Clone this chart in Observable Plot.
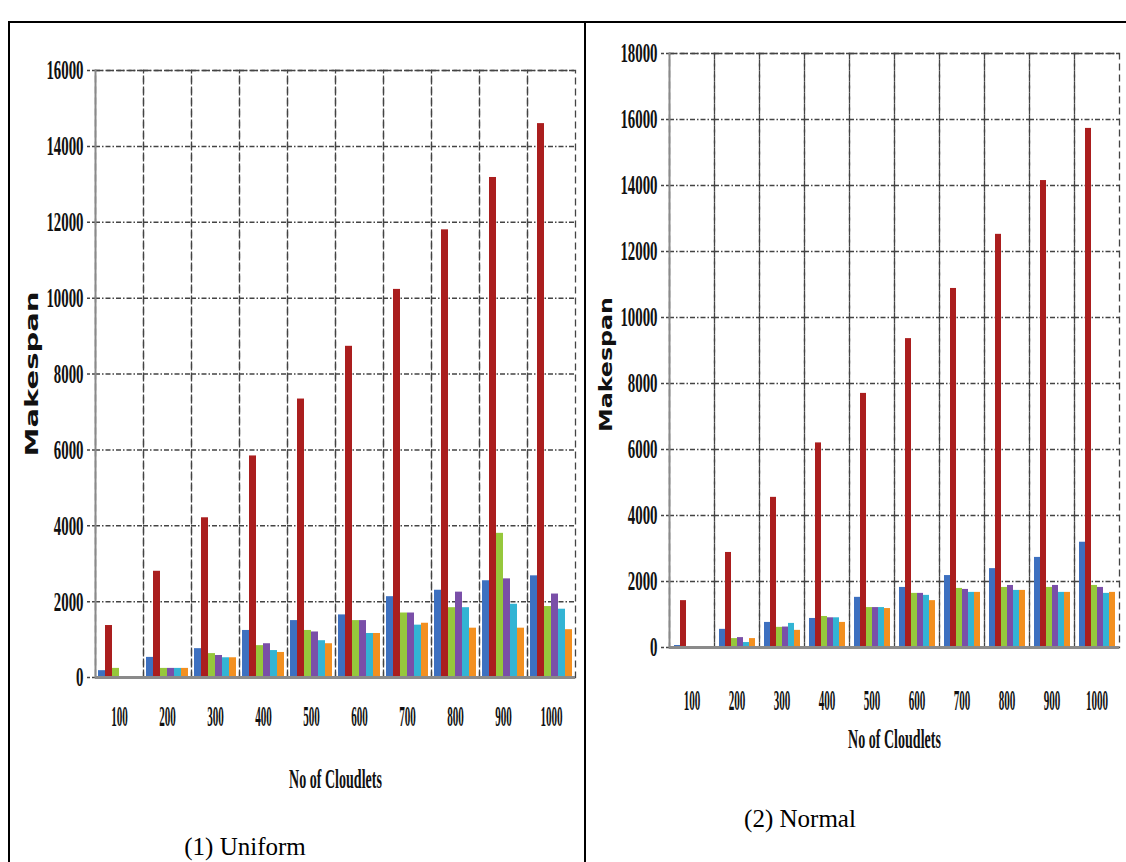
<!DOCTYPE html>
<html>
<head>
<meta charset="utf-8">
<script src="https://cdn.jsdelivr.net/npm/d3@7"></script>
<script src="https://cdn.jsdelivr.net/npm/@observablehq/plot@0.6"></script>
<style>
  html, body { margin: 0; padding: 0; background: #fff; }
  #page { position: relative; width: 1126px; height: 862px; overflow: hidden; background: #fff; }
  .line { position: absolute; background: #000; }
  .panel { position: absolute; }
  .caption { position: absolute; font-family: "Liberation Serif", "Times New Roman", serif; font-size: 25px; color: #000; text-align: center; white-space: nowrap; }
</style>
</head>
<body>
<div id="page">
  <div class="line" style="left:8px; top:21px; width:1118px; height:2px;"></div>
  <div class="line" style="left:8px; top:21px; width:2px; height:841px;"></div>
  <div class="line" style="left:584px; top:21px; width:2px; height:841px;"></div>
  <div class="panel" id="left" style="left:0px; top:0px;"></div>
  <div class="panel" id="right" style="left:590px; top:0px;"></div>
  <div class="caption" style="left:145px; top:833px; width:200px;">(1) Uniform</div>
  <div class="caption" style="left:700px; top:805px; width:200px;">(2) Normal</div>
</div>
<script>
// ---- data ----
const cloudlets = [100, 200, 300, 400, 500, 600, 700, 800, 900, 1000];
const seriesNames = ["S1", "S2", "S3", "S4", "S5", "S6"];
const seriesColors = ["#3d70c0", "#aa1e1e", "#96c83c", "#7a4fa8", "#33b4d4", "#f39020"];

// (1) Uniform
const uniformS1 = [180, 530, 760, 1240, 1500, 1650, 2130, 2300, 2550, 2680];
const uniformS2 = [1370, 2800, 4210, 5840, 7340, 8730, 10230, 11800, 13180, 14600];
const uniformS3 = [240, 240, 630, 840, 1240, 1500, 1700, 1840, 3800, 1870];
const uniformS4 = [0, 240, 580, 890, 1200, 1500, 1700, 2250, 2600, 2200];
const uniformS5 = [0, 240, 520, 710, 970, 1160, 1380, 1840, 1930, 1800];
const uniformS6 = [0, 240, 520, 660, 890, 1160, 1430, 1300, 1300, 1260];

// (2) Normal
const normalS1 = [60, 550, 760, 880, 1520, 1820, 2180, 2390, 2730, 3190];
const normalS2 = [1420, 2880, 4550, 6200, 7700, 9360, 10880, 12520, 14150, 15730];
const normalS3 = [0, 270, 610, 940, 1210, 1640, 1790, 1820, 1820, 1880];
const normalS4 = [0, 300, 620, 900, 1210, 1640, 1760, 1880, 1880, 1820];
const normalS5 = [0, 150, 730, 900, 1210, 1580, 1670, 1730, 1670, 1640];
const normalS6 = [0, 270, 520, 760, 1180, 1420, 1670, 1730, 1670, 1670];

const uniformTicks = [0, 2000, 4000, 6000, 8000, 10000, 12000, 14000, 16000];
const normalTicks = [0, 2000, 4000, 6000, 8000, 10000, 12000, 14000, 16000, 18000];

function toRows(cols) {
  const rows = [];
  cloudlets.forEach((c, i) => {
    cols.forEach((vals, j) => rows.push({cat: c, series: seriesNames[j], value: vals[i]}));
  });
  return rows;
}

const uniformData = toRows([uniformS1, uniformS2, uniformS3, uniformS4, uniformS5, uniformS6]);
const normalData = toRows([normalS1, normalS2, normalS3, normalS4, normalS5, normalS6]);

function makePanel(data, ticks, o) {
  const yMax = ticks[ticks.length - 1];
  return Plot.plot({
    width: o.width, height: o.height,
    marginLeft: o.ml, marginRight: o.mr, marginTop: o.mt, marginBottom: o.mb,
    style: {background: "transparent", overflow: "visible"},
    fx: {domain: cloudlets, padding: 0, label: "No of Cloudlets", labelAnchor: "center",
         labelOffset: o.fxLabelOffset, tickSize: 0, tickPadding: o.fxTickPadding, tickFormat: d => String(d)},
    x: {domain: seriesNames, paddingInner: 0.04, paddingOuter: 0.4, axis: null},
    y: {domain: [0, yMax], ticks: ticks, tickSize: 9, tickPadding: 3, tickFormat: d => String(d),
        label: "Makespan", labelAnchor: "center", labelOffset: o.yLabelOffset, labelArrow: "none"},
    color: {domain: seriesNames, range: seriesColors},
    marks: [
      Plot.gridY(ticks, {stroke: "#444", strokeOpacity: 1, strokeWidth: 1.5, strokeDasharray: "5,2,1.5,2"}),
      Plot.frame({stroke: "#444", strokeWidth: 1.3, strokeDasharray: "7,4"}),
      Plot.barY(data, {fx: "cat", x: "series", y: "value", fill: "series"}),
      Plot.ruleY([0], {stroke: "#8a8a8a", strokeWidth: 3}),
      Plot.frame({anchor: "left", facet: "super", stroke: "#8a8a8a", strokeWidth: 2})
    ]
  });
}

function styleText(svg, sel, attrs, factor, fixedLen) {
  svg.querySelectorAll(sel).forEach(t => {
    for (const k in attrs) t.setAttribute(k, attrs[k]);
    const w = t.getComputedTextLength();
    const len = fixedLen != null ? fixedLen : w * factor;
    t.setAttribute("textLength", len);
    t.setAttribute("lengthAdjust", "spacingAndGlyphs");
  });
}

function finish(svg, o) {
  const serifBold = {"font-family": "Liberation Serif, serif", "font-weight": "bold", "font-size": 28, "fill": "#111"};
  styleText(svg, 'g[aria-label="y-axis tick label"] text', serifBold, 0.53);
  styleText(svg, 'g[aria-label="fx-axis tick label"] text',
    {"font-family": "Liberation Serif, serif", "font-weight": "bold", "font-size": 30, "fill": "#111"}, 0.37);
  styleText(svg, 'g[aria-label="fx-axis label"] text',
    {"font-family": "Liberation Serif, serif", "font-weight": "bold", "font-size": 27, "fill": "#111"}, 0.52);
  styleText(svg, 'g[aria-label="y-axis label"] text',
    {"font-family": "DejaVu Sans, sans-serif", "font-weight": "bold", "font-size": 18, "fill": "#111"}, null, o.yLabelLen);
  svg.querySelectorAll('g[aria-label="y-axis label"] text').forEach(t => t.setAttribute("dx", o.yLabelShift));
  svg.querySelectorAll('g[aria-label="y-axis tick"] path, g[aria-label="y-axis tick"] line').forEach(p => {
    p.setAttribute("stroke", "#444"); p.setAttribute("stroke-width", 1.5); p.setAttribute("stroke-dasharray", "3,2");
  });
}

const leftOpts = {width: 585, height: 800, ml: 92, mr: 8, mt: 70, mb: 123,
  fxLabelOffset: 110, fxTickPadding: 27, yLabelOffset: 70, yLabelLen: 165, yLabelShift: 0};
const rightOpts = {width: 536, height: 760, ml: 75, mr: 4, mt: 53, mb: 113,
  fxLabelOffset: 100, fxTickPadding: 41, yLabelOffset: 70, yLabelLen: 135, yLabelShift: -14};

const leftSvg = makePanel(uniformData, uniformTicks, leftOpts);
document.getElementById("left").appendChild(leftSvg);
finish(leftSvg, leftOpts);

const rightSvg = makePanel(normalData, normalTicks, rightOpts);
document.getElementById("right").appendChild(rightSvg);
finish(rightSvg, rightOpts);
</script>
</body>
</html>
